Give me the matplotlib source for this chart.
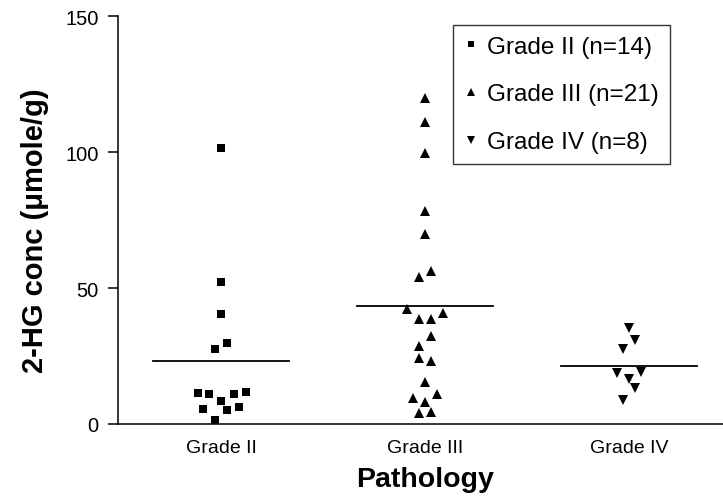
import matplotlib
matplotlib.use("Agg")
import matplotlib.pyplot as plt
import numpy as np

plt.rcParams['font.family'] = ['Liberation Sans', 'DejaVu Sans']

categories = ["Grade II", "Grade III", "Grade IV"]
legend_labels = ["Grade II (n=14)", "Grade III (n=21)", "Grade IV (n=8)"]

grade2 = [101.4, 52.1, 40.4, 29.7, 27.6, 11.3, 10.9, 8.5, 11.2, 11.9, 5.5, 5.2, 6.3, 1.5]
grade2_jitter = [0.0, 0.0, 0.0, 0.03, -0.03, -0.114, -0.057, 0.0, 0.064, 0.123, -0.09, 0.03, 0.09, -0.03]

grade3 = [119.8, 111.2, 99.5, 78.3, 69.9, 53.9, 56.1, 42.3, 40.8, 38.7, 38.7,
          32.2, 28.5, 24.4, 23.2, 15.4, 9.7, 8.2, 11.1, 3.9, 4.3]
grade3_jitter = [0.0, 0.0, 0.0, 0.0, 0.0, -0.03, 0.03, -0.09, 0.09, -0.03, 0.03,
                 0.03, -0.03, -0.03, 0.03, 0.0, -0.06, 0.0, 0.06, -0.03, 0.03]

grade4 = [35.3, 31.0, 27.6, 18.7, 19.3, 16.6, 13.4, 8.8]
grade4_jitter = [0.0, 0.03, -0.03, -0.06, 0.06, 0.0, 0.03, -0.03]

groups = [grade2, grade3, grade4]
jitters = [grade2_jitter, grade3_jitter, grade4_jitter]
markers = ['s', '^', 'v']
msizes = [6.0, 7.0, 7.0]
leg_msizes = [5.0, 6.0, 6.0]

fig = plt.figure(figsize=(7.23, 5.02), dpi=100)
ax = fig.add_axes([0.1632, 0.1534, 0.8368, 0.8127])

handles = []
for i, (vals, jit, m) in enumerate(zip(groups, jitters, markers)):
    pos = i + 1
    xs = pos + np.array(jit)
    ax.plot(xs, vals, linestyle='none', marker=m, color='black', markersize=msizes[i],
            markeredgewidth=0, clip_on=False)
    mean = np.mean(vals)
    ax.plot([pos - 0.335, pos + 0.335], [mean, mean], color='black', linewidth=1.3)
    h, = ax.plot([], [], linestyle='none', marker=m, color='black', markersize=leg_msizes[i],
                 markeredgewidth=0, label=legend_labels[i])
    handles.append(h)

ax.set_xlim(0.495, 3.461)
ax.set_ylim(0, 150)
ax.set_yticks([0, 50, 100, 150])
ax.set_xticks([1, 2, 3])
ax.set_xticklabels(categories)

for s in ['top', 'right']:
    ax.spines[s].set_visible(False)
for s in ['left', 'bottom']:
    ax.spines[s].set_linewidth(1.1)

ax.tick_params(axis='y', length=7, width=1.1, pad=7, labelsize=14.5)
ax.tick_params(axis='x', length=0, pad=11, labelsize=14)

ax.set_ylabel("2-HG conc (\u03bcmole/g)", fontsize=21, fontweight='bold', labelpad=12)
ax.set_xlabel("Pathology", fontsize=20.5, fontweight='bold', labelpad=7)
ax.yaxis.label.set_y(0.4755)
ax.xaxis.label.set_x(0.508)

leg = fig.legend(handles=handles, loc='upper left',
                 bbox_to_anchor=(453 / 723, 1 - 26 / 502),
                 borderaxespad=0, frameon=True, fancybox=False,
                 fontsize=17.5, handlelength=0.6, handletextpad=0.35,
                 labelspacing=1.05, borderpad=0.45)
leg.get_frame().set_edgecolor('black')
leg.get_frame().set_linewidth(1.0)

fig.savefig("out.png", dpi=100)
